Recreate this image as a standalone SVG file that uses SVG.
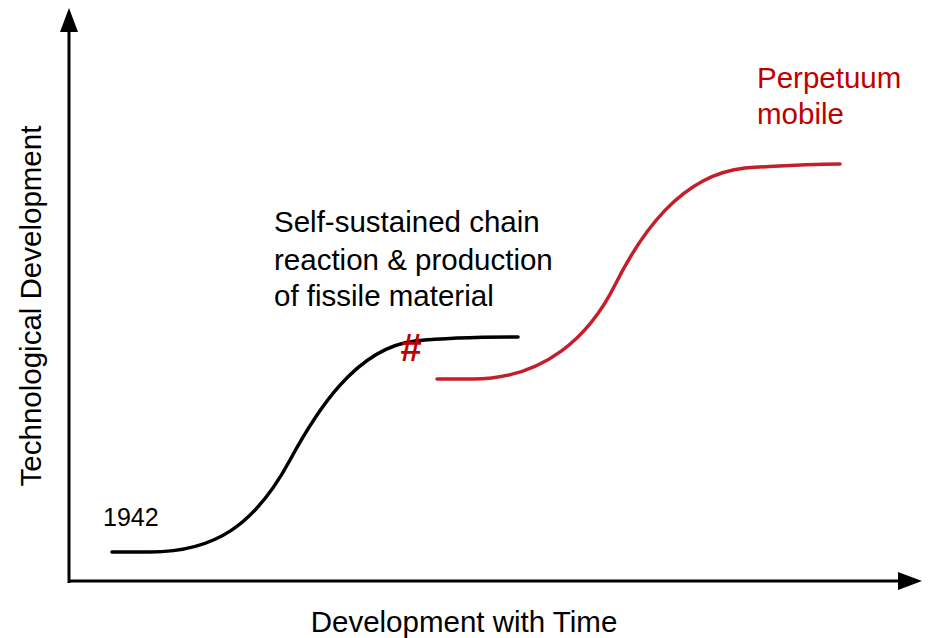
<svg xmlns="http://www.w3.org/2000/svg" width="933" height="638" viewBox="0 0 933 638">
<style>
.t{font-family:"Liberation Sans",Arial,sans-serif;font-size:29.5px;fill:#000}
.r{fill:#c00000}
.c{fill:none;stroke-width:3.5;stroke-linecap:round}
</style>
<rect width="933" height="638" fill="#fff"/>
<g id="axes">
<line x1="69" y1="583" x2="69" y2="28" stroke="#000" stroke-width="3"/>
<polygon points="69,8 60,32 78,32" fill="#000"/>
<line x1="68" y1="581" x2="902" y2="581" stroke="#000" stroke-width="3"/>
<polygon points="922,581 898,572 898,590" fill="#000"/>
</g>
<g id="connectors">
<path class="c" stroke="#000" d="M112,552 L150,552 C215,552 255,525 290,460 C315,414 355,348 415,341 C445,338 490,337 518,337"/>
<path class="c" stroke="#c41e2a" d="M437,379 L470,379 C545,380 590,335 615,285 C640,235 680,175 745,168 C790,165 820,164 840,164"/>
</g>
<g id="labels">
<text class="t" transform="translate(41,306) rotate(-90)" text-anchor="middle">Technological Development</text>
<text class="t" x="464" y="632" text-anchor="middle">Development with Time</text>
<text class="t" x="274" y="232">Self-sustained chain</text>
<text class="t" x="274" y="270">reaction &amp; production</text>
<text class="t" x="274" y="306">of fissile material</text>
<text class="t r" x="757" y="88">Perpetuum</text>
<text class="t r" x="757" y="124">mobile</text>
<text x="103" y="526" style="font-family:'Liberation Sans',Arial,sans-serif;font-size:25px">1942</text>
<text x="411" y="361" text-anchor="middle" style="font-family:'Liberation Sans',Arial,sans-serif;font-size:38px;font-weight:bold;fill:#c00000">#</text>
</g>
</svg>
